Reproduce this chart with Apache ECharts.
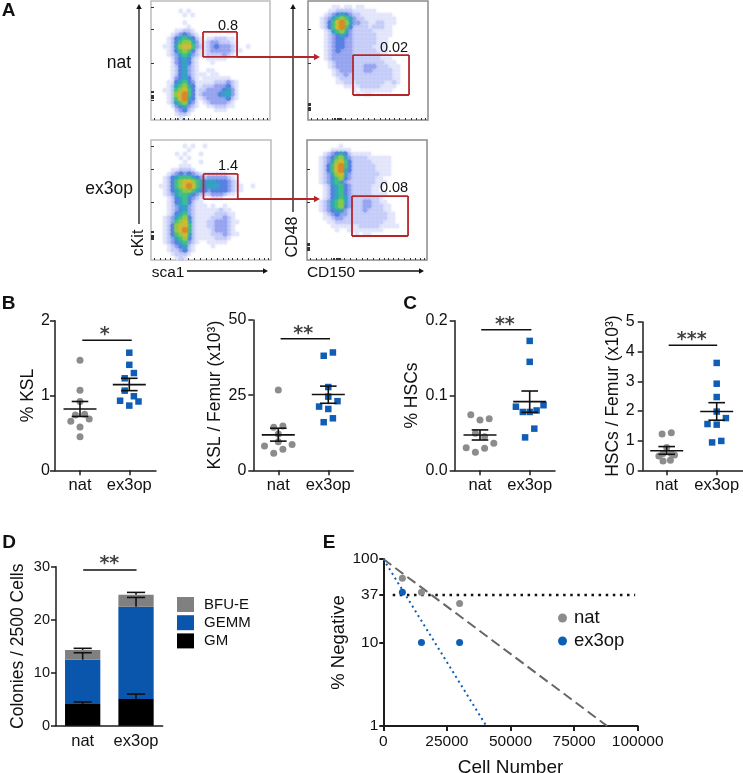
<!DOCTYPE html>
<html><head><meta charset="utf-8">
<style>html,body{margin:0;padding:0;background:#fff}#c{width:743px;height:773px}</style>
<script src="https://cdn.jsdelivr.net/npm/echarts@6/dist/echarts.min.js"></script>
</head><body><div id="c"></div>
<script>
// ---------- data: flow cytometry density (levels 0-9)
const flowNatKit=["","","000000010100","000000001010","","000000001","0000000001","000000112210","000001234321","000012456542101122211","000012467753112332221100","000112578863212343332100100","000012467642112333332110","000012356532112222321","000001345421001111100","0000013454210001","000001245321","000001245321001100","000001245321110110","000001345421011111110","000011456431111122232100","000012567541122233342100","000112678641223333453100","000012789641233334553100","000012689541123333342100","000012567431012333321","000001345321001122211","000000234210000011100","000000122100","00000001"];
const flowExoKit=["","00000000101001","0000000001","0000001010001","00000001010","000000001000100","0000000111","00000112221","000012343432111111100","000124566654323333321","000124678876545544432100","001124678986545554432110010","000124567765443444432110","000123566543222333211","000012456432100111","00001245642110","000012355321110100100","000012345321111112110","000012456321111122211","000123567421111222321","000123678521112233321100","000124788621112233321","000124789621111233321","000124678521111222321100","000123567421111122210","000123456321001111100","00001234521000010","000012234210","000001222100","000000121"];
const flowNatCd=["","00000011011011","00000112222111111","000012345432211111111","000123567653221111111100","000124689753322112211100","000124689642222122211","000012567532222211111","000012345432222221111","000012344332222221110","000012344332222221110","000012344332222211110","000012343332222221110","000012333332222222110","000012333332222222111","000001233332222222211100","000001233332223332221110","000000123332223322222110","000000122322222222222110","000000012222222222222110","000000011221222222211210","000000000111122222111100","000000000001011111111","0000000000001011"];
const flowExoCd=["","000000001","00000011111","000012345421111100","000123467532222111111","000123578642222211111","000124689642222221111","000124689542222221111","000123578532222222111","000123467432222221100","000123564322222221110","000012456432222211100","000012456432222211","000012456432222211110","000012456532222222100","000123567532223322110","000123567432223322211","000123455322223222211","000012343322222222221100","000011233222222222221100","000001122222222222211100","000000111111122222111110","00000001001111111110","0000000000001011"];
const gateKitNat=[43.7,72.3,53,74], gateKitExo=[43.7,72.3,50.8,71.7];
const gateCdNat=[37.5,84.2,21,54.6], gateCdExo=[37.5,84.2,20,53.3];
const gateValues=["0.8","1.4","0.02","0.08"];

// ---------- data: dot plots
const groups=["nat","ex3op"];
const kslNat=[1.47,1.07,0.92,0.74,0.75,0.655,0.686,0.58,0.45];
const kslExo=[1.572,1.41,1.30,1.23,1.065,0.93,0.99,0.92,0.865];
const kslFemurNat=[26.7,14.3,14.7,12.1,9.5,8.1,8.6,5.65,7.0];
const kslFemurExo=[39.2,38.1,27.7,24.5,23,21.2,20.4,17.3,16];
const hscNat=[0.0744,0.0673,0.069,0.0495,0.045,0.0303,0.036,0.0294,0.024];
const hscExo=[0.173,0.145,0.085,0.087,0.078,0.078,0.08,0.0557,0.044];
const hscFemurNat=[1.22,1.27,0.77,0.48,0.52,0.57,0.57,0.31,0.34];
const hscFemurExo=[3.62,2.92,2.47,1.98,1.76,1.56,1.54,0.94,0.99];
// [lower, mean, upper]
const kslSummary=[[0.72,0.82,0.92],[1.065,1.145,1.23]];
const kslFemurSummary=[[9.7,11.8,14],[22.3,25.2,28]];
const hscSummary=[[0.0405,0.0472,0.054],[0.0775,0.0918,0.106]];
const hscFemurSummary=[[0.54,0.66,0.8],[1.69,1.98,2.28]];

// ---------- data: colonies
const colonyGM=[4.09,5.03], colonyGEMM=[8.36,17.42], colonyBFU=[1.85,2.25];
const colonyErr=[[4.47,5.97],[13.77,24.2],[14.6,25.15]];

// ---------- data: limiting dilution
const cellDoses=[7500,15000,30000];
const negNat=[59,39.9,29.4], negExo=[40,10,10];
const fitNatEnd=88000, fitExoEnd=40500;

// ---------- drawing
const FONT='"Liberation Sans",Arial,sans-serif';
const INK='#1c1c1c', GREY='#8c8c8c', BLUE='#0f5db5', RED='#b5262b';
const grid=[],xAxis=[],yAxis=[],series=[],graphic=[];
const addGrid=o=>grid.push(Object.assign({outerBoundsMode:'none'},o));

const segs=(g,data,color,w,z)=>series.push({type:'custom',xAxisIndex:g,yAxisIndex:g,clip:false,z:z||5,silent:true,
  encode:{x:[0,2],y:[1,3]},data,
  renderItem:(p,api)=>{const a=api.coord([api.value(0),api.value(1)]),b=api.coord([api.value(2),api.value(3)]);
    return {type:'line',shape:{x1:a[0],y1:a[1],x2:b[0],y2:b[1]},style:{stroke:color,lineWidth:w,lineCap:'butt'}};}});
const text=(x,y,t,size,o)=>graphic.push({type:'text',x,y,rotation:(o&&o.rot)||0,z:20,style:{text:t,fontSize:size,fontFamily:FONT,fontWeight:(o&&o.bold)?'bold':'normal',fill:'#111',align:(o&&o.align)||'center',verticalAlign:'middle'}});
const arrow=(x1,y1,x2,y2,color,w,h)=>{
  graphic.push({type:'line',z:18,shape:{x1,y1,x2,y2},style:{stroke:color,lineWidth:w}});
  const dx=Math.sign(x2-x1),dy=Math.sign(y2-y1);
  graphic.push({type:'polygon',z:18,shape:{points:[[x2+dx*h,y2+dy*h],[x2+dy*h*.55,y2+dx*h*.55],[x2-dy*h*.55,y2-dx*h*.55]]},style:{fill:color}});
};

const levels=['#e3e6fb','#c6cdf8','#98a5f1','#5a80e2','#35a2c6','#3fbe8c','#86cc48','#cdbb38','#d88a28'];
const levelSize=[4.5,4.6,4.8,5,5.2,5.2,5.4,5.4,5.6];
function flow(rows,left,top,w,h,gate,border,ticksX,ticksY){
  const g=grid.length;
  addGrid({left,top,width:w,height:h,show:true,backgroundColor:'#fff',borderColor:border,borderWidth:1.5});
  xAxis.push({gridIndex:g,type:'value',min:0,max:100,axisLine:{show:false},splitLine:{show:false},axisLabel:{show:false},
    axisTick:{show:true,inside:true,length:2,customValues:ticksX,lineStyle:{color:'#333',width:1}}});
  yAxis.push({gridIndex:g,type:'value',min:0,max:100,axisLine:{show:false},splitLine:{show:false},axisLabel:{show:false},
    axisTick:{show:true,inside:true,length:3,customValues:ticksY,lineStyle:{color:'#333',width:1}}});
  levels.forEach((color,li)=>{
    const d=[];
    rows.forEach((s,r)=>[...s].forEach((c,k)=>{if(+c===li+1&&k<30)d.push([(k+.5)/30*100,100-(r+.5)/30*100]);}));
    series.push({type:'scatter',xAxisIndex:g,yAxisIndex:g,data:d,silent:true,z:2,symbol:'circle',symbolSize:levelSize[li],
      itemStyle:{color,opacity:1,shadowBlur:3,shadowColor:color}});
  });
  const [a,b,c,e]=gate;
  segs(g,[[a,c,b,c],[b,c,b,e],[b,e,a,e],[a,e,a,c]],RED,1.8,6);
}
const tx=[3,8,12,16,20,22,23,24,25,26,27,28,31,36,41,46,50,55,60,64,68,72,76,81,86,90,94,98];
const tyA=[17,18,19,20,21,23,24,48,76,95];
const tyB=[8,9,10,11,12,13,14,48,76];
flow(flowNatKit,151,1,119,119,gateKitNat,'#bdbdbd',tx,tyA);
flow(flowExoKit,151,140,120,120,gateKitExo,'#bdbdbd',tx,tyA);
flow(flowNatCd,308,1,120,119,gateCdNat,'#8a8a8a',tx,tyB);
flow(flowExoCd,307,140,120,120,gateCdExo,'#8a8a8a',tx,tyB);

// flow annotations
text(228,26,gateValues[0],14.5);text(228,166,gateValues[1],14.5);text(394,48,gateValues[2],14.5);text(394,188,gateValues[3],14.5);
text(131,63,'nat',17.5,{align:'right'});text(133,189,'ex3op',17.5,{align:'right'});
text(139,243,'cKit',16,{rot:Math.PI/2});text(293,237,'CD48',16,{rot:Math.PI/2});
text(168,273,'sca1',15.5);text(331,273,'CD150',15.5);
arrow(139,224,139,9,'#111',1.3,5);arrow(293,212,293,9,'#111',1.3,5);
arrow(187,271,263,271,'#111',1.3,5);arrow(359,271,419,271,'#111',1.3,5);
arrow(237,57,314,57,RED,2,6);arrow(237,199,314,199,RED,2,6);
text(8.5,11,'A',19,{bold:true});text(8.5,303.5,'B',19,{bold:true});text(410,303.5,'C',19,{bold:true});
text(9,543,'D',19,{bold:true});text(329,543,'E',19,{bold:true});

function dots(cfg){
  const g=grid.length,{left,top,width,height,max,interval,centers,name,nameGap,nat,exo,slotsA,slotsB,summary,bracket,stars,fmt}=cfg;
  addGrid({left,top,width,height});
  xAxis.push({gridIndex:g,type:'value',min:0,max:width,
    axisLine:{lineStyle:{color:INK,width:1.5}},splitLine:{show:false},
    axisTick:{customValues:centers,length:5,lineStyle:{color:INK,width:1.5}},
    axisLabel:{customValues:centers,formatter:v=>groups[centers.indexOf(v)],fontFamily:FONT,fontSize:16.5,color:'#111',margin:7}});
  yAxis.push({gridIndex:g,type:'value',min:0,max,interval,name,nameLocation:'middle',nameGap,
    nameTextStyle:{fontFamily:FONT,fontSize:17.5,color:'#111'},
    axisLine:{show:true,lineStyle:{color:INK,width:1.5}},splitLine:{show:false},
    axisTick:{show:true,length:5,lineStyle:{color:INK,width:1.5}},
    axisLabel:{fontFamily:FONT,fontSize:16,color:'#111',margin:cfg.tickMargin||7,formatter:fmt}});
  const sp=4.6;
  series.push({type:'scatter',xAxisIndex:g,yAxisIndex:g,symbol:'circle',symbolSize:7,itemStyle:{color:GREY,opacity:1},z:3,silent:true,
    data:nat.map((v,i)=>[centers[0]+slotsA[i]*sp,v])});
  series.push({type:'scatter',xAxisIndex:g,yAxisIndex:g,symbol:'rect',symbolSize:6.5,itemStyle:{color:BLUE,opacity:1},z:3,silent:true,
    data:exo.map((v,i)=>[centers[1]+slotsB[i]*sp,v])});
  const s=[];
  summary.forEach((r,i)=>{const c=centers[i];
    s.push([c-16.5,r[1],c+16.5,r[1]],[c-8.3,r[0],c+8.3,r[0]],[c-8.3,r[2],c+8.3,r[2]],[c,r[0],c,r[2]]);});
  segs(g,s,'#111',1.6);
  segs(g,[[centers[0]+bracket[1],bracket[0],centers[1]+bracket[2],bracket[0]]],'#111',1.5);
  series.push({type:'scatter',xAxisIndex:g,yAxisIndex:g,symbolSize:0,silent:true,clip:false,z:6,
    data:[[(centers[0]+centers[1])/2+(bracket[3]||0),bracket[0]]],
    label:{show:true,position:'inside',offset:[0,-5],formatter:stars,fontFamily:'"DejaVu Sans"',fontWeight:'bold',fontSize:19,color:'#111'}});
}
dots({left:55,top:320.7,width:101,height:149.6,max:2,interval:1,centers:[25,74.3],name:'% KSL',nameGap:17.5,tickMargin:5,nat:kslNat,exo:kslExo,
  slotsA:[0,0,0,-1,1,-2,2,0,0],slotsB:[0,0,1,-1,-1,-2,1,2,0],summary:kslSummary,bracket:[1.74,2.3,2.4,0],stars:'*'});
dots({left:253.3,top:320,width:100,height:150.3,max:50,interval:25,centers:[25,75],name:'KSL / Femur (x10³)',nameGap:28,nat:kslFemurNat,exo:kslFemurExo,
  slotsA:[0,-1,1,0,0,-3,3,-1,1],slotsB:[1,-1,0,0,2,-2,0,1,-1],summary:kslFemurSummary,bracket:[43.8,2.3,1.7,0],stars:'**'});
dots({left:454.7,top:320.7,width:100.3,height:149.6,max:0.2,interval:0.1,centers:[25.3,75],name:'% HSCs',nameGap:31,nat:hscNat,exo:hscExo,
  slotsA:[-2,0,2,-1,1,-3,3,1,-1],slotsB:[0,0,-3,3,-1.5,0,1.5,1,-1],summary:hscSummary,bracket:[0.188,1.2,1.7,0],stars:'**',fmt:v=>v.toFixed(1)});
dots({left:642.7,top:322,width:100,height:148.3,max:5,interval:1,centers:[24,74],name:'HSCs / Femur (x10³)',nameGap:20.5,tickMargin:8,nat:hscFemurNat,exo:hscFemurExo,
  slotsA:[-1,1,0,-1.7,1.7,-0.8,1,-0.8,0.8],slotsB:[0,0,0,0,2,-2,0,-1,1],summary:hscFemurSummary,bracket:[4.22,2,0.5,0],stars:'***'});

// colonies
{const g=grid.length;
 addGrid({left:56,top:566.7,width:106.7,height:159});
 xAxis.push({gridIndex:g,type:'category',data:groups,axisLine:{lineStyle:{color:INK,width:1.5}},
   axisTick:{alignWithLabel:true,length:5,lineStyle:{color:INK,width:1.5}},
   axisLabel:{interval:0,hideOverlap:false,fontFamily:FONT,fontSize:16.5,color:'#111',margin:7}});
 yAxis.push({gridIndex:g,type:'value',min:0,max:30,interval:10,name:'Colonies / 2500 Cells',nameLocation:'middle',nameGap:28.5,
   nameTextStyle:{fontFamily:FONT,fontSize:17.5,color:'#111'},
   axisLine:{show:true,lineStyle:{color:INK,width:1.5}},splitLine:{show:false},
   axisTick:{show:true,length:5,lineStyle:{color:INK,width:1.5}},axisLabel:{fontFamily:FONT,fontSize:14.5,color:'#111',margin:6}});
 [['GM',colonyGM,'#000'],['GEMM',colonyGEMM,'#0b56ad'],['BFU-E',colonyBFU,'#808080']].forEach(([n,v,c])=>
   series.push({type:'bar',name:n,stack:'col',xAxisIndex:g,yAxisIndex:g,data:v,barWidth:35.3,itemStyle:{color:c},silent:true,z:2}));
 const g2=grid.length;
 addGrid({left:56,top:566.7,width:106.7,height:159});
 xAxis.push({gridIndex:g2,type:'value',min:0,max:2,show:false});
 yAxis.push({gridIndex:g2,type:'value',min:0,max:30,show:false});
 const s=[],base=[colonyGM,colonyGM.map((v,i)=>v+colonyGEMM[i]),colonyGM.map((v,i)=>v+colonyGEMM[i]+colonyBFU[i])];
 colonyErr.forEach((row,k)=>row.forEach((u,i)=>{const c=i+.5;
   s.push([c,base[k][i],c,u],[c-.085*2,u,c+.085*2,u]);}));
 segs(g2,s,'#111',1.6);
 segs(g2,[[0.51,29.4,1.51,29.4]],'#111',1.5);
 series.push({type:'scatter',xAxisIndex:g2,yAxisIndex:g2,symbolSize:0,silent:true,clip:false,data:[[1,29.4]],
   label:{show:true,position:'inside',offset:[0,-6],formatter:'**',fontFamily:'"DejaVu Sans"',fontWeight:'bold',fontSize:19,color:'#111'}});
}

// limiting dilution
{const g=grid.length;
 addGrid({left:383.3,top:559,width:254.4,height:167});
 xAxis.push({gridIndex:g,type:'value',min:0,max:100000,interval:25000,name:'Cell Number',nameLocation:'middle',nameGap:32,
   nameTextStyle:{fontFamily:FONT,fontSize:19,color:'#111'},
   axisLine:{lineStyle:{color:INK,width:2}},splitLine:{show:false},axisTick:{length:5,lineStyle:{color:INK,width:2}},
   axisLabel:{fontFamily:FONT,fontSize:15.5,color:'#111',margin:8,formatter:v=>String(v)}});
 const yTicks=[1,10,37,100];
 yAxis.push({gridIndex:g,type:'log',logBase:10,min:1,max:100,name:'% Negative',nameLocation:'middle',nameGap:34.5,
   nameTextStyle:{fontFamily:FONT,fontSize:18.5,color:'#111'},
   axisLine:{show:true,lineStyle:{color:INK,width:2}},splitLine:{show:false},minorTick:{show:false},
   axisTick:{show:true,length:4,customValues:yTicks,lineStyle:{color:INK,width:2}},
   axisLabel:{customValues:yTicks,fontFamily:FONT,fontSize:15.5,color:'#111',margin:5}});
 const line=(d,c,type,w)=>series.push({type:'line',xAxisIndex:g,yAxisIndex:g,data:d,symbol:'none',silent:true,clip:false,z:3,
   lineStyle:{color:c,type,width:w}});
 line([[0,100],[fitNatEnd,1]],'#666',[10,5],2);
 line([[0,100],[fitExoEnd,1]],BLUE,[2,3.5],2);
 line([[3700,37],[99000,37]],'#111',[2.5,4.6],2.5);
 series.push({type:'scatter',name:'nat',xAxisIndex:g,yAxisIndex:g,symbolSize:7,itemStyle:{color:GREY,opacity:1},z:4,silent:true,data:cellDoses.map((x,i)=>[x,negNat[i]])});
 series.push({type:'scatter',name:'ex3op',xAxisIndex:g,yAxisIndex:g,symbolSize:7,itemStyle:{color:BLUE,opacity:1},z:4,silent:true,data:cellDoses.map((x,i)=>[x,negExo[i]])});
}

const chart=echarts.init(document.getElementById('c'),null,{renderer:'canvas'});
chart.setOption({
  animation:false,backgroundColor:'#fff',grid,xAxis,yAxis,series,graphic,
  legend:[
   {left:177,top:597,orient:'vertical',padding:0,itemWidth:17,itemHeight:15,itemGap:3.2,icon:'rect',selectedMode:false,
    data:['BFU-E','GEMM','GM'],textStyle:{fontFamily:FONT,fontSize:15,color:'#111',padding:[0,0,0,5]}},
   {left:558,top:608.5,orient:'vertical',padding:0,itemWidth:13,itemHeight:9,itemGap:4,icon:'circle',selectedMode:false,
    data:['nat','ex3op'],textStyle:{fontFamily:FONT,fontSize:18.5,color:'#111'}}
  ]
});
</script></body></html>
